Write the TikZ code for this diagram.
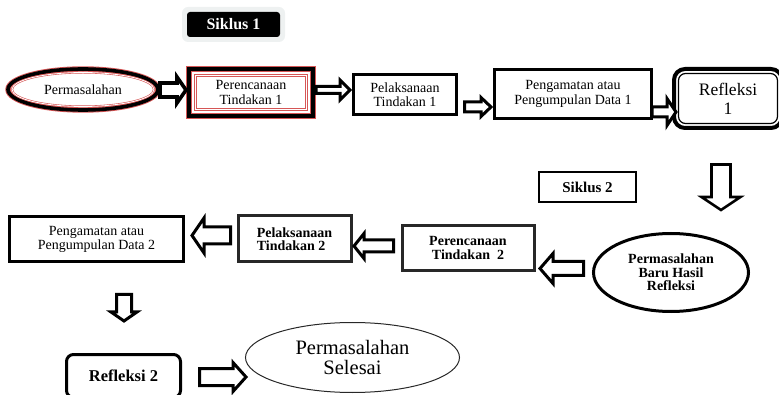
\documentclass[tikz,border=0pt]{standalone}
\usepackage{fontspec}
\setmainfont{Liberation Serif}
\usetikzlibrary{shapes.geometric,calc}
\definecolor{redc}{RGB}{214,86,86}
\definecolor{halo}{RGB}{238,241,241}
\definecolor{dk}{RGB}{40,40,40}
\newcommand\harr[7][]{\draw[barrow,#1] (#2,{#4-#5}) -- ({#3-#7},{#4-#5}) -- ({#3-#7},{#4-#6}) -- (#3,#4) -- ({#3-#7},{#4+#6}) -- ({#3-#7},{#4+#5}) -- (#2,{#4+#5}) -- cycle;}
\newcommand\varr[7][]{\draw[barrow,#1] ({#4-#5},#2) -- ({#4-#5},{#3-#7}) -- ({#4-#6},{#3-#7}) -- (#4,#3) -- ({#4+#6},{#3-#7}) -- ({#4+#5},{#3-#7}) -- ({#4+#5},#2) -- cycle;}
\begin{document}
\begin{tikzpicture}[x=1pt,y=-1pt,
  every node/.style={outer sep=0pt, inner sep=0pt},
  rbox/.style={rectangle, draw=black, line width=3pt, align=center, font=\fontsize{14pt}{14pt}\selectfont},
  bbox/.style={rbox, draw=dk, font=\bfseries\fontsize{14pt}{13.5pt}\selectfont},
  barrow/.style={draw=black, fill=white, line width=3pt, line join=miter, miter limit=10}]
\useasboundingbox (0,0) rectangle (779,395);

% Siklus 1
\fill[halo, rounded corners=6pt] (182,7) rectangle (285,42);
\node[rectangle, fill=black, rounded corners=3pt, text=white, minimum width=93pt, minimum height=25pt,
  font=\bfseries\fontsize{16pt}{16pt}\selectfont] (s1) at (233.5,24.5) {Siklus 1};

% top row
\node[ellipse, draw=black, line width=3.6pt, preaction={draw=redc, line width=5.4pt},
  minimum width=150pt, minimum height=41pt, font=\fontsize{14pt}{14pt}\selectfont] (perm1) at (83,89.5) {Permasalahan};
\draw[redc, line width=0.6pt, double=white, double distance=0.8pt] (perm1.center) ellipse [x radius=71pt, y radius=17pt];

\node[rectangle, draw=black, line width=3.6pt, preaction={draw=redc, line width=5.2pt},
  minimum width=124pt, minimum height=47pt, align=center, font=\fontsize{14pt}{15pt}\selectfont] (ren1) at (251,92.5) {Perencanaan\\Tindakan 1};
\draw[redc, line width=0.6pt, double=white, double distance=0.9pt] ($(ren1.north west)+(6.5,6.5)$) rectangle ($(ren1.south east)+(-6.5,-6.5)$);

\node[rbox, minimum width=103pt, minimum height=40pt] (pel1) at (405,94.5) {Pelaksanaan\\Tindakan 1};
\node[rbox, font=\fontsize{14pt}{15pt}\selectfont, minimum width=157pt, minimum height=49pt] (pen1) at (573,94) {Pengamatan atau\\Pengumpulan Data 1};

\node[rectangle, rounded corners=11pt, draw=black, line width=4pt, minimum width=108pt, minimum height=59pt,
  align=center, font=\fontsize{17.5pt}{19pt}\selectfont] (ref1) at (728,98.5) {Refleksi\\1};
\draw[line width=1.2pt, rounded corners=7pt] ($(ref1.north west)+(4.5,4.5)$) rectangle ($(ref1.south east)+(-4.5,-4.5)$);

% Siklus 2
\node[rectangle, draw=black, line width=2.5pt, minimum width=97pt, minimum height=30pt,
  font=\bfseries\fontsize{15pt}{15pt}\selectfont] (s2) at (587.5,187) {Siklus 2};

% second row
\node[ellipse, draw=black, line width=3pt, minimum width=155pt, minimum height=78pt, align=center,
  font=\bfseries\fontsize{14pt}{13.5pt}\selectfont] (baru) at (671,272.5) {Permasalahan\\Baru Hasil\\Refleksi};
\node[bbox, minimum width=132pt, minimum height=45pt] (ren2) at (468,248) {Perencanaan\\Tindakan~ 2};
\node[bbox, align=left, minimum width=113pt, minimum height=46pt] (pel2) at (294.5,239) {Pelaksanaan\\Tindakan 2};
\node[rbox, minimum width=174pt, minimum height=45pt] (pen2) at (96.5,239) {Pengamatan atau\\Pengumpulan Data 2};

% bottom row
\node[rectangle, rounded corners=7pt, draw=black, line width=3pt, minimum width=114pt, minimum height=43pt,
  font=\bfseries\fontsize{16.5pt}{16.5pt}\selectfont] (ref2) at (123.5,376) {Refleksi 2};
\node[ellipse, draw=dk, line width=1pt, minimum width=214pt, minimum height=70pt, align=center,
  font=\fontsize{20.5pt}{20pt}\selectfont] (sel) at (352.5,357.5) {Permasalahan\\Selesai};

% block arrows
\harr[line width=3.6pt]{160}{186}{90}{7}{13}{9}
\harr{316}{350}{90}{3.5}{10}{10}
\harr{464.5}{491}{107}{5}{9.5}{10}
\harr{652}{676}{112}{5}{13.5}{9}
\varr[line width=2.6pt]{164.5}{210}{721}{9.5}{19.5}{13}
\harr{583.5}{540}{268.5}{7}{15}{-13}
\harr{393.5}{354}{246}{6}{12.5}{-10}
\harr{230.5}{192}{235.5}{8.5}{17.5}{-12}
\varr{294.5}{321}{124}{7.5}{13}{9}
\harr{199.5}{246}{377}{8.5}{14.5}{13}
\end{tikzpicture}
\end{document}
